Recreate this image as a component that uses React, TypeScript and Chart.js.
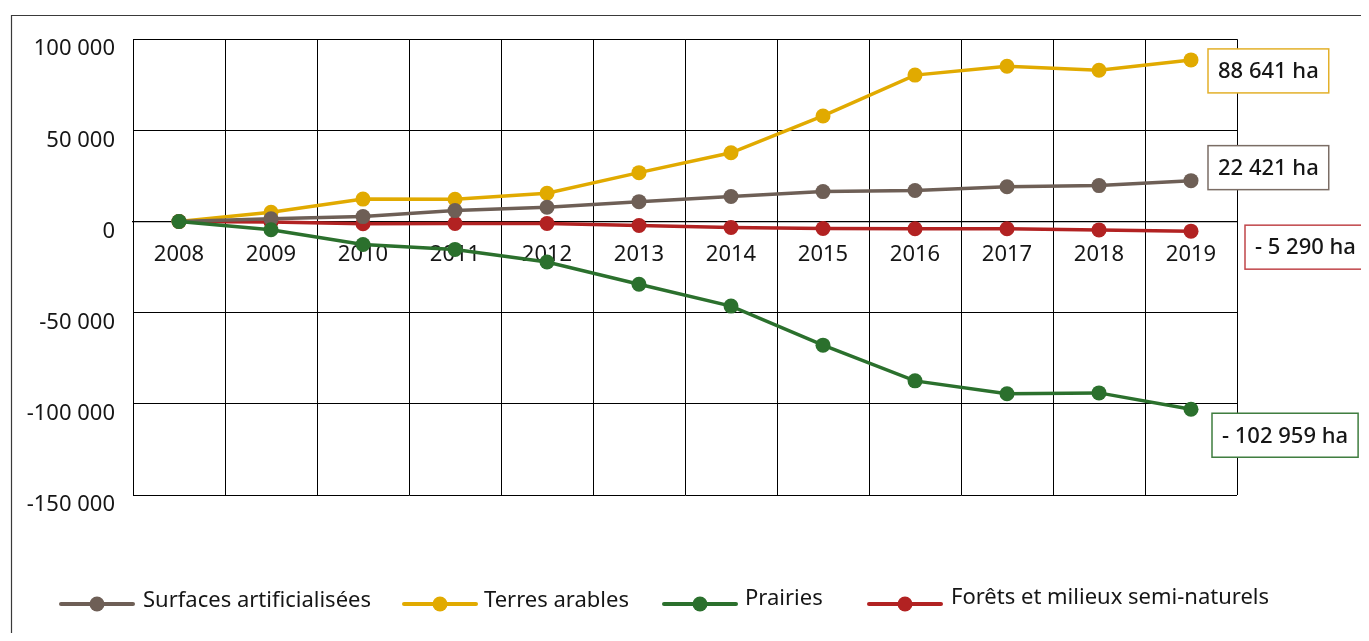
import { useEffect, useRef } from "react";
import { Chart, registerables } from "chart.js";

Chart.register(...registerables);

// Cumulative change in land use since 2008, in hectares
const years = ["2008", "2009", "2010", "2011", "2012", "2013", "2014", "2015", "2016", "2017", "2018", "2019"];
const surfacesArtificialisees = [0, 1500, 2700, 6000, 7800, 10900, 13700, 16400, 17000, 19100, 19700, 22421];
const terresArables = [0, 5100, 12300, 12200, 15500, 26800, 37700, 57900, 80300, 85200, 83000, 88641];
const prairies = [0, -4500, -12600, -15300, -22200, -34400, -46400, -67800, -87400, -94500, -94000, -102959];
const forets = [0, -300, -1200, -1100, -1100, -2200, -3300, -3800, -4000, -4000, -4600, -5290];
const seriesNames = ["Surfaces artificialisées", "Terres arables", "Prairies", "Forêts et milieux semi-naturels"];
const yMin = -150000;
const yMax = 100000;
const yStep = 50000;

const COLORS = ["#6e5f56", "#e1aa00", "#2b702d", "#b22222"];
const BOX_BORDERS = ["#7b6d65", "#e3b02a", "#3f7d3f", "#c0454a"];
const FONT = "'Noto Sans', 'Open Sans', sans-serif";
const FONT_SIZE = 22;
const TEXT = "#161616";

const groupThousands = (v: number) =>
  Math.round(Math.abs(v)).toString().replace(/\B(?=(\d{3})+(?!\d))/g, " ");

// End-of-line value boxes: offsets from the last point (box left, box centre y)
const endLabelOffsets = [
  { dx: 17, dy: -13 },
  { dx: 17, dy: 11 },
  { dx: 21, dy: 26 },
  { dx: 54, dy: 16 },
];

// Hand-placed legend entries (line start, text x, text centre y)
const legendLayout = [
  { x: 53, tx: 135, y: 596, ty: 593 },
  { x: 396, tx: 476, y: 596, ty: 593 },
  { x: 656, tx: 737, y: 596, ty: 591 },
  { x: 861, tx: 943, y: 596, ty: 590 },
];

const decorPlugin = {
  id: "decor",
  beforeDraw(chart: any) {
    const { ctx, width, height } = chart;
    ctx.save();
    ctx.strokeStyle = "#3a3a3a";
    ctx.lineWidth = 1.2;
    ctx.beginPath();
    ctx.moveTo(3.5, height);
    ctx.lineTo(3.5, 7.5);
    ctx.lineTo(width, 7.5);
    ctx.stroke();
    ctx.restore();
  },
  afterDatasetsDraw(chart: any) {
    const { ctx } = chart;
    ctx.save();
    ctx.font = `500 ${FONT_SIZE}px ${FONT}`;
    ctx.textBaseline = "middle";
    ctx.textAlign = "center";
    chart.data.datasets.forEach((ds: any, i: number) => {
      const meta = chart.getDatasetMeta(i);
      const last = meta.data[meta.data.length - 1];
      const v = ds.data[ds.data.length - 1];
      const text = (v < 0 ? "- " : "") + groupThousands(v) + " ha";
      const off = endLabelOffsets[i];
      const w = ctx.measureText(text).width + 20;
      const h = 44;
      const left = last.x + off.dx;
      const cy = last.y + off.dy;
      ctx.fillStyle = "#ffffff";
      ctx.fillRect(left, cy - h / 2, w, h);
      ctx.strokeStyle = BOX_BORDERS[i];
      ctx.lineWidth = 1.5;
      ctx.strokeRect(left, cy - h / 2, w, h);
      ctx.fillStyle = TEXT;
      ctx.fillText(text, left + w / 2, cy + 1);
    });
    ctx.restore();
  },
  afterDraw(chart: any) {
    const { ctx } = chart;
    ctx.save();
    seriesNames.forEach((name, i) => {
      const L = legendLayout[i];
      ctx.strokeStyle = COLORS[i];
      ctx.lineWidth = 4;
      ctx.lineCap = "round";
      ctx.beginPath();
      ctx.moveTo(L.x, L.y);
      ctx.lineTo(L.x + 72, L.y);
      ctx.stroke();
      ctx.fillStyle = COLORS[i];
      ctx.beginPath();
      ctx.arc(L.x + 36, L.y, 7.5, 0, Math.PI * 2);
      ctx.fill();
      ctx.fillStyle = TEXT;
      ctx.font = `${FONT_SIZE}px ${FONT}`;
      ctx.textBaseline = "middle";
      ctx.textAlign = "left";
      ctx.fillText(name, L.tx, L.ty);
    });
    ctx.restore();
  },
};

export default function App() {
  const canvasRef = useRef<HTMLCanvasElement | null>(null);

  useEffect(() => {
    if (!canvasRef.current) return;
    const series = [surfacesArtificialisees, terresArables, prairies, forets];
    const drawOrder = [1, 2, 0, 3];
    const chart = new Chart(canvasRef.current, {
      type: "line",
      data: {
        labels: years,
        datasets: series.map((data, i) => ({
          label: seriesNames[i],
          data,
          borderColor: COLORS[i],
          backgroundColor: COLORS[i],
          borderWidth: 3.5,
          pointRadius: 7.5,
          pointHoverRadius: 7.5,
          pointBorderWidth: 0,
          pointBackgroundColor: COLORS[i],
          tension: 0,
          order: drawOrder[i],
          clip: false as any,
        })),
      },
      options: {
        animation: false,
        responsive: true,
        maintainAspectRatio: false,
        layout: { padding: { top: 30, right: 124, bottom: 138, left: 0 } },
        plugins: {
          legend: { display: false },
          tooltip: { enabled: false },
        },
        scales: {
          x: {
            type: "category",
            position: { y: 0 } as any,
            offset: true,
            grid: { offset: true, color: "#000", lineWidth: 1, drawTicks: false },
            border: { display: true, color: "#000", width: 1.2 },
            ticks: {
              font: { family: FONT, size: FONT_SIZE },
              color: TEXT,
              padding: 20,
              maxRotation: 0,
              autoSkip: false,
            },
          },
          y: {
            position: "left",
            min: yMin,
            max: yMax,
            afterFit: (s: any) => {
              s.width = 125;
            },
            grid: { color: "#000", lineWidth: 1, drawTicks: false },
            border: { display: true, color: "#000", width: 1 },
            ticks: {
              stepSize: yStep,
              font: { family: FONT, size: FONT_SIZE },
              color: TEXT,
              padding: 18,
              labelOffset: 10,
              callback: (v: any) => (Number(v) < 0 ? "-" : "") + groupThousands(Number(v)),
            },
          },
        },
      },
      plugins: [decorPlugin],
    });
    return () => chart.destroy();
  }, []);

  return (
    <div style={{ position: "relative", width: 1353, height: 625 }}>
      <canvas ref={canvasRef} />
    </div>
  );
}
